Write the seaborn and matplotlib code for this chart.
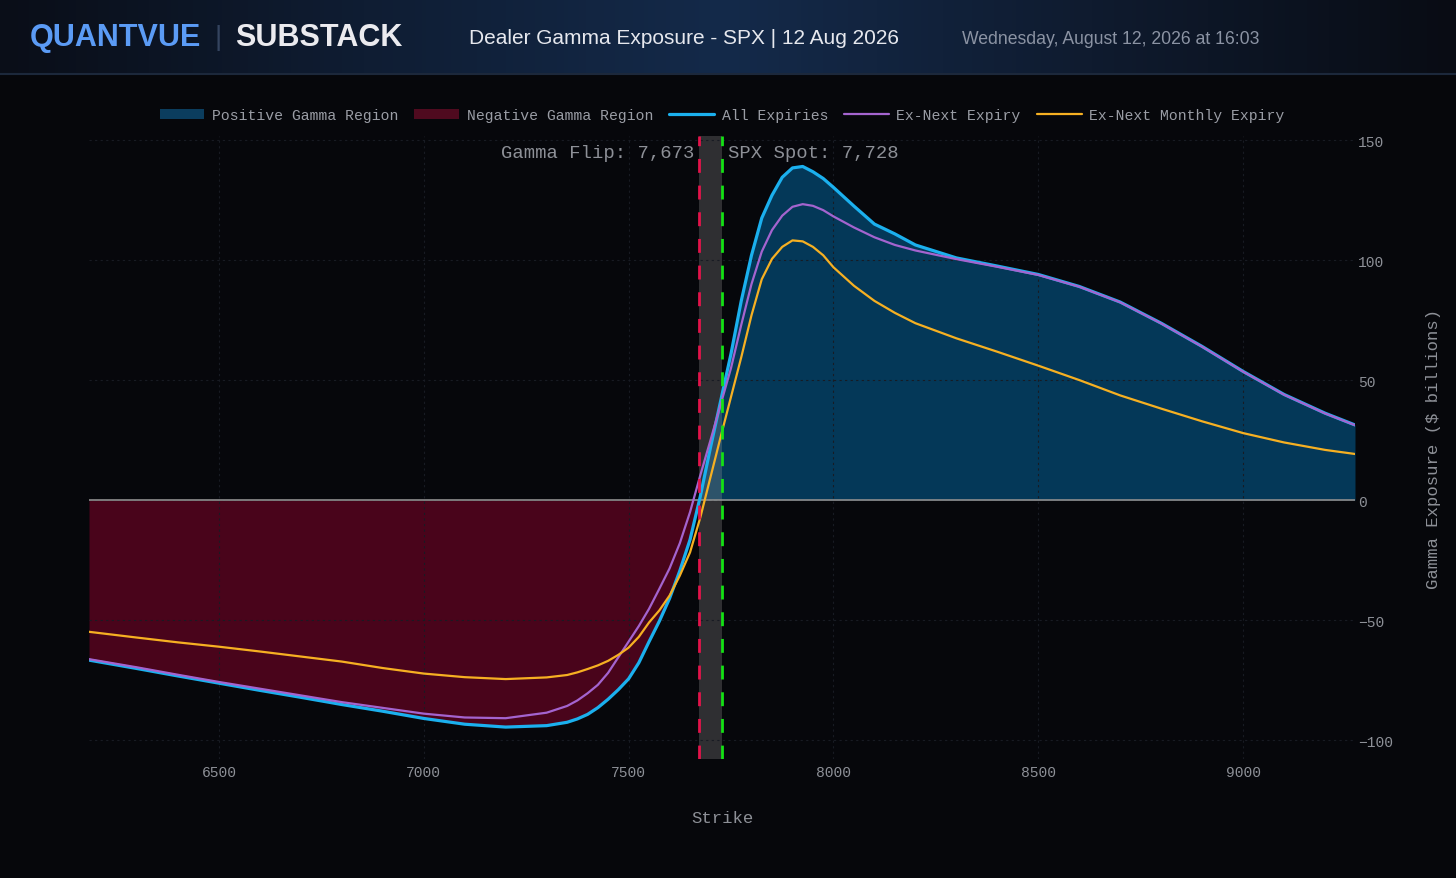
import numpy as np
import pandas as pd
import matplotlib
matplotlib.use('Agg')
import matplotlib.pyplot as plt
import seaborn as sns
from matplotlib.patches import Patch
from matplotlib.lines import Line2D
from matplotlib.colors import LinearSegmentedColormap

# Strike grid and dealer gamma exposure ($ billions)
strikes = [6183, 6300, 6400, 6500, 6600, 6700, 6800, 6900,
           7000, 7100, 7200, 7300, 7350, 7375, 7400, 7425,
           7450, 7475, 7500, 7525, 7550, 7575, 7600, 7625,
           7650, 7675, 7700, 7725, 7750, 7775, 7800, 7825,
           7850, 7875, 7900, 7925, 7950, 7975, 8000, 8050,
           8100, 8150, 8200, 8300, 8400, 8500, 8600, 8700,
           8800, 8900, 9000, 9100, 9200, 9273]

all_expiries = [-66.7, -70.2, -73.3, -76.3, -79.3, -82.2, -85.2, -88.0,
                -91.0, -93.4, -94.6, -94.0, -92.6, -91.2, -89.3, -86.5,
                -83.0, -79.0, -74.5, -67.8, -59.0, -50.5, -41.0, -29.5,
                -16.5, 1.5, 22.0, 41.5, 61.0, 83.0, 102.0, 117.5,
                127.0, 134.5, 138.4, 139.0, 136.8, 134.0, 130.3, 122.5,
                115.0, 110.9, 106.3, 100.9, 97.5, 94.0, 89.0, 82.5,
                73.7, 64.0, 53.6, 44.0, 36.2, 31.3]

ex_next = [-66.3, -69.7, -72.8, -75.8, -78.6, -81.4, -84.2, -86.6,
           -89.0, -90.6, -90.9, -88.6, -85.8, -83.5, -80.5, -77.0,
           -72.0, -65.5, -59.0, -52.5, -45.3, -37.0, -28.5, -18.0,
           -5.0, 10.3, 25.0, 40.0, 55.0, 73.0, 90.0, 103.5,
           112.5, 118.5, 122.2, 123.3, 122.6, 120.8, 118.2, 113.6,
           109.5, 106.3, 104.0, 100.4, 97.2, 93.8, 88.9, 82.4,
           73.6, 63.9, 53.5, 43.9, 36.1, 31.2]

ex_monthly = [-54.9, -57.3, -59.3, -61.1, -63.1, -65.2, -67.3, -70.0,
              -72.3, -73.8, -74.6, -73.9, -72.9, -71.8, -70.4, -68.9,
              -67.0, -64.5, -61.5, -57.0, -51.0, -46.0, -39.8, -31.5,
              -21.8, -7.3, 9.6, 26.5, 43.0, 59.5, 77.0, 92.0,
              100.5, 105.5, 108.2, 107.8, 105.5, 102.0, 97.0, 89.3,
              83.0, 78.0, 73.7, 67.4, 61.8, 56.0, 50.0, 43.6,
              38.1, 32.8, 27.9, 24.0, 20.9, 19.2]

gamma_flip = 7673
spx_spot = 7728
x_ticks = [6500, 7000, 7500, 8000, 8500, 9000]
y_ticks = [-100, -50, 0, 50, 100, 150]

df = pd.DataFrame({'Strike': strikes, 'All': all_expiries,
                   'ExNext': ex_next, 'ExMonthly': ex_monthly})

BG = '#06070b'
TXT = '#8d9097'
W, H = 1456, 879

sns.set_theme(style='dark')
plt.rcParams['font.family'] = ['Liberation Mono', 'DejaVu Sans Mono']

fig = plt.figure(figsize=(W / 100, H / 100), dpi=100, facecolor=BG)

# header band
hax = fig.add_axes([0, 1 - 74 / H, 1, 74 / H])
cmap = LinearSegmentedColormap.from_list('hdr', ['#0a0e18', '#0f1d33', '#142a4a', '#0f1b2f', '#090c14'])
hax.imshow(np.linspace(0, 1, 400).reshape(1, -1), cmap=cmap, aspect='auto', extent=[0, 1, 0, 1])
hax.axis('off')
fig.add_artist(Line2D([0, 1], [1 - 75 / H] * 2, color='#1c283b', lw=1.5))

def fx(px):
    return px / W

def fy(py):
    return 1 - py / H

hdr_font = ['Liberation Sans', 'DejaVu Sans']
fig.text(fx(30), fy(38), 'QUANTVUE', color='#5b9bf5', fontsize=22, fontweight='bold',
         family=hdr_font, va='center', ha='left')
fig.text(fx(218), fy(38), '|', color='#34445f', fontsize=20, family=hdr_font, va='center', ha='center')
fig.text(fx(235), fy(38), 'SUBSTACK', color='#ebebef', fontsize=22, fontweight='bold',
         family=hdr_font, va='center', ha='left')
fig.text(fx(469), fy(39), 'Dealer Gamma Exposure - SPX | 12 Aug 2026', color='#e6e8ee',
         fontsize=15, family=hdr_font, va='center', ha='left')
fig.text(fx(962), fy(39), 'Wednesday, August 12, 2026 at 16:03', color='#8b93a3',
         fontsize=12.7, family=hdr_font, va='center', ha='left')

# main plot
ax = fig.add_axes([fx(89), fy(760), (1355 - 89) / W, (760 - 137) / H])
ax.set_facecolor(BG)

y_all = np.array(all_expiries)
ax.fill_between(df['Strike'], 0, df['All'], where=y_all >= 0, interpolate=True,
                color='#043858', linewidth=0, zorder=1)
ax.fill_between(df['Strike'], 0, df['All'], where=y_all <= 0, interpolate=True,
                color='#49041b', linewidth=0, zorder=1)

ax.axvspan(gamma_flip, spx_spot, color='#9a9a9a', alpha=0.28, linewidth=0, zorder=2)

sns.lineplot(data=df, x='Strike', y='All', ax=ax, color='#1bb0ee', linewidth=2.3, zorder=4)
sns.lineplot(data=df, x='Strike', y='ExNext', ax=ax, color='#a464cf', linewidth=1.6, zorder=4)
sns.lineplot(data=df, x='Strike', y='ExMonthly', ax=ax, color='#f6b022', linewidth=1.6, zorder=4)

ax.axhline(0, color='#8e8e8e', linewidth=1.2, zorder=3)
ax.axvline(gamma_flip, color='#e3134a', linestyle=(0, (5, 4.6)), linewidth=2.0, zorder=5)
ax.axvline(spx_spot, color='#14e014', linestyle=(0, (5, 4.6)), linewidth=2.0, zorder=5)

ax.annotate(f'Gamma Flip: {gamma_flip:,}', xy=(gamma_flip, 145.0), xytext=(-4, 0),
            textcoords='offset points', ha='right', va='center', color=TXT, fontsize=13.6, zorder=6)
ax.annotate(f'SPX Spot: {spx_spot:,}', xy=(spx_spot, 145.0), xytext=(4, 0),
            textcoords='offset points', ha='left', va='center', color=TXT, fontsize=13.6, zorder=6)

ax.set_xlim(6183, 9273)
ax.set_ylim(-107.9, 151.7)
ax.set_xticks(x_ticks)
ax.set_yticks(y_ticks)
ax.yaxis.tick_right()
ax.yaxis.set_label_position('right')
ax.tick_params(axis='both', length=0, colors=TXT, labelsize=10.5)
ax.tick_params(axis='x', pad=4.5)
ax.tick_params(axis='y', pad=2)
ax.set_xlabel('Strike', color=TXT, fontsize=12.4, labelpad=22.5)
ax.set_ylabel('Gamma Exposure ($ billions)', color=TXT, fontsize=12.4, labelpad=24)
for s in ax.spines.values():
    s.set_visible(False)
ax.set_axisbelow(False)
ax.grid(True, color='#181b23', linestyle=(0, (2, 3)), linewidth=0.8)

handles = [Patch(facecolor='#0b3d5e', edgecolor='none'),
           Patch(facecolor='#4f0a1f', edgecolor='none'),
           Line2D([], [], color='#1bb0ee', linewidth=2.3),
           Line2D([], [], color='#a464cf', linewidth=1.6),
           Line2D([], [], color='#f6b022', linewidth=1.6)]
labels = ['Positive Gamma Region', 'Negative Gamma Region', 'All Expiries',
          'Ex-Next Expiry', 'Ex-Next Monthly Expiry']
leg = ax.legend(handles, labels, loc='center', bbox_to_anchor=(0.5, 1 + 21 / 623), ncol=5,
                frameon=False, fontsize=10.6, handlelength=3.05, handletextpad=0.5,
                columnspacing=1.1, borderaxespad=0)
for t in leg.get_texts():
    t.set_color('#9a9da5')

fig.savefig('out.png', dpi=100, facecolor=BG)
